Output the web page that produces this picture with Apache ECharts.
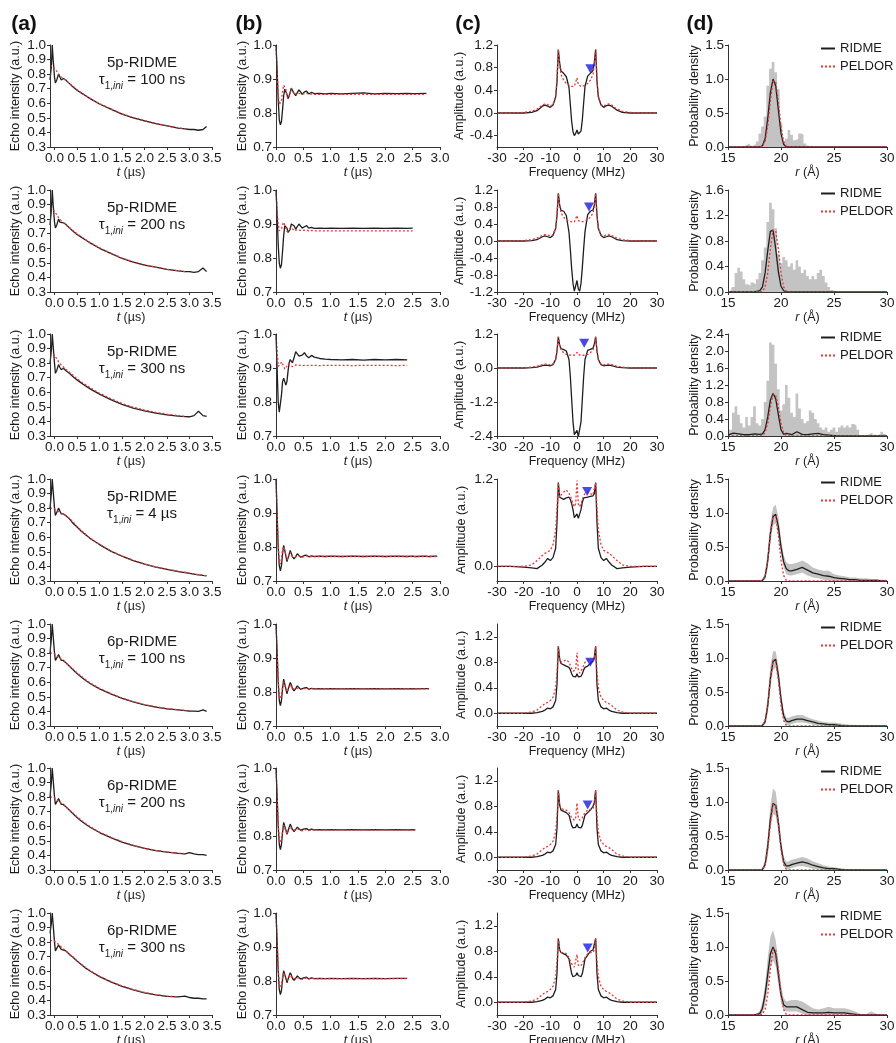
<!DOCTYPE html>
<html><head><meta charset="utf-8">
<script src="https://cdn.jsdelivr.net/npm/echarts@6/dist/echarts.min.js"></script>
<style>html,body{margin:0;padding:0;background:#fff}#c{width:896px;height:1043px}</style>
</head><body><div id="c"></div>
<script>
// ---------- DATA ----------
const annoName = ['5p-RIDME','5p-RIDME','5p-RIDME','5p-RIDME','6p-RIDME','6p-RIDME','6p-RIDME'];
const annoVal  = ['100 ns','200 ns','300 ns','4 \u00b5s','100 ns','200 ns','300 ns'];

// column (a): time traces
const tA = [-0.1,-0.07,-0.05,-0.03,0.0,0.02,0.05,0.09,0.12,0.15,0.2,0.25,0.3,0.35,0.4,0.5,0.6,0.7,0.8,1.0,1.25,1.5,1.75,2.0,2.25,2.5,2.75,2.9,3.0,3.1,3.2,3.3,3.38];
const aK1 = [0.76,0.85,1.0,0.9,0.78,0.74,0.76,0.80,0.78,0.76,0.77,0.76,0.745,0.73,0.715,0.69,0.67,0.65,0.63,0.595,0.56,0.525,0.50,0.48,0.46,0.445,0.43,0.425,0.42,0.42,0.415,0.42,0.44];
const aR1 = [0.86,0.86,0.855,0.85,0.84,0.83,0.82,0.80,0.79,0.78,0.77,0.757,0.745,0.732,0.72,0.695,0.672,0.652,0.633,0.598,0.562,0.528,0.502,0.481,0.462,0.446,0.432,0.426,null,null,null,null,null];
const aK2 = [0.76,0.86,1.0,0.9,0.78,0.74,0.76,0.80,0.78,0.77,0.775,0.765,0.75,0.735,0.72,0.695,0.675,0.655,0.635,0.6,0.565,0.53,0.505,0.485,0.47,0.455,0.445,0.44,0.44,0.435,0.44,0.465,0.44];
const aR2 = [0.88,0.875,0.87,0.865,0.855,0.845,0.83,0.81,0.8,0.79,0.775,0.762,0.75,0.737,0.724,0.7,0.678,0.658,0.638,0.603,0.567,0.533,0.507,0.487,0.47,0.456,0.445,0.44,null,null,null,null,null];
const aK3 = [0.8,0.88,1.0,0.92,0.8,0.73,0.75,0.79,0.77,0.755,0.765,0.75,0.738,0.725,0.71,0.685,0.663,0.642,0.622,0.587,0.55,0.517,0.492,0.472,0.457,0.445,0.437,0.433,0.432,0.44,0.47,0.44,0.435];
const aR3 = [0.88,0.875,0.87,0.865,0.855,0.845,0.83,0.81,0.798,0.787,0.772,0.758,0.745,0.732,0.72,0.693,0.67,0.65,0.63,0.593,0.557,0.523,0.498,0.478,0.462,0.45,0.44,0.435,null,null,null,null,null];
const aK4 = [0.8,0.9,1.0,0.92,0.8,0.75,0.76,0.8,0.78,0.76,0.76,0.75,0.735,0.72,0.7,0.67,0.64,0.615,0.59,0.55,0.505,0.47,0.44,0.415,0.395,0.38,0.365,0.358,0.352,0.347,0.342,0.338,0.335];
const aR4 = [0.8,0.8,0.8,0.8,0.795,0.79,0.785,0.775,0.77,0.765,0.758,0.75,0.738,0.725,0.71,0.675,0.645,0.618,0.593,0.552,0.507,0.472,0.442,0.417,0.397,0.381,0.367,0.36,0.354,0.348,0.343,0.339,0.336];
const aK5 = [0.8,0.9,1.0,0.92,0.8,0.75,0.76,0.79,0.77,0.75,0.75,0.735,0.72,0.705,0.69,0.66,0.635,0.61,0.59,0.555,0.52,0.49,0.465,0.445,0.43,0.418,0.41,0.405,0.403,0.402,0.4,0.41,0.4];
const aR5 = [0.8,0.8,0.8,0.8,0.795,0.79,0.785,0.775,0.765,0.755,0.745,0.733,0.72,0.707,0.693,0.665,0.64,0.616,0.594,0.558,0.523,0.492,0.467,0.447,0.432,0.42,0.411,0.407,null,null,null,null,null];
const aK6 = [0.8,0.9,1.0,0.92,0.8,0.75,0.76,0.79,0.77,0.75,0.75,0.735,0.72,0.705,0.69,0.66,0.635,0.612,0.592,0.557,0.522,0.492,0.468,0.448,0.433,0.422,0.414,0.41,0.42,0.41,0.405,0.405,0.4];
const aR6 = [0.8,0.8,0.8,0.8,0.795,0.79,0.785,0.775,0.765,0.755,0.745,0.733,0.72,0.707,0.693,0.665,0.64,0.617,0.596,0.56,0.525,0.495,0.47,0.45,0.435,0.424,0.416,0.412,null,null,null,null,null];
const aK7 = [0.86,0.93,1.0,0.92,0.8,0.74,0.75,0.78,0.77,0.75,0.745,0.74,0.725,0.71,0.7,0.67,0.645,0.62,0.6,0.563,0.527,0.497,0.472,0.452,0.438,0.428,0.425,0.43,0.42,0.415,0.415,0.41,0.41];
const aR7 = [0.81,0.81,0.81,0.81,0.805,0.8,0.795,0.785,0.775,0.765,0.752,0.74,0.727,0.714,0.701,0.672,0.647,0.623,0.602,0.566,0.53,0.5,0.475,0.455,0.44,0.43,0.424,null,null,null,null,null,null];

// column (b): background-corrected traces
const tB = [0,0.02,0.04,0.06,0.08,0.1,0.12,0.14,0.16,0.18,0.2,0.22,0.24,0.26,0.28,0.3,0.33,0.36,0.39,0.42,0.45,0.48,0.52,0.56,0.6,0.65,0.7,0.8,0.9,1.0,1.2,1.4,1.6,1.8,2.0,2.2,2.4,2.5,2.55,2.75,2.8,2.95];
const bK1 = [1.0,0.93,0.84,0.78,0.765,0.775,0.81,0.85,0.87,0.868,0.855,0.842,0.845,0.86,0.873,0.872,0.858,0.851,0.86,0.868,0.862,0.855,0.862,0.864,0.856,0.861,0.857,0.858,0.856,0.858,0.856,0.858,0.859,0.856,0.858,0.857,0.858,0.857,0.857,0.858,null,null];
const bR1 = [1.0,0.92,0.86,0.825,0.82,0.835,0.865,0.882,0.884,0.87,0.85,0.842,0.848,0.862,0.872,0.868,0.855,0.85,0.858,0.862,0.857,0.853,0.856,0.858,0.855,0.856,0.855,0.855,0.855,0.855,0.855,0.855,0.855,0.855,0.855,0.855,0.855,0.855,0.855,0.855,null,null];
const bK2 = [1.0,0.93,0.84,0.785,0.77,0.78,0.82,0.865,0.895,0.9,0.888,0.875,0.872,0.885,0.9,0.905,0.895,0.885,0.89,0.9,0.896,0.888,0.892,0.895,0.888,0.89,0.887,0.888,0.887,0.888,0.887,0.888,0.887,0.888,0.887,0.888,0.887,0.888,null,null,null,null];
const bR2 = [1.0,0.94,0.9,0.88,0.878,0.885,0.898,0.905,0.9,0.888,0.878,0.875,0.88,0.888,0.89,0.886,0.88,0.879,0.883,0.884,0.881,0.88,0.881,0.882,0.88,0.881,0.88,0.88,0.88,0.88,0.88,0.88,0.88,0.88,0.88,0.88,0.88,0.88,null,null,null,null];
const bK3 = [1.0,0.9,0.8,0.77,0.775,0.82,0.86,0.87,0.86,0.85,0.86,0.89,0.915,0.925,0.92,0.915,0.93,0.948,0.948,0.935,0.93,0.938,0.945,0.935,0.93,0.937,0.932,0.928,0.926,0.925,0.924,0.925,0.923,0.925,0.924,0.925,0.924,null,null,null,null,null];
const bR3 = [1.0,0.95,0.905,0.9,0.91,0.918,0.915,0.905,0.897,0.898,0.905,0.912,0.913,0.908,0.903,0.904,0.908,0.909,0.907,0.908,0.908,0.907,0.908,0.908,0.907,0.908,0.908,0.907,0.908,0.908,0.908,0.907,0.908,0.908,0.908,0.907,0.908,null,null,null,null,null];
const bK4 = [1.0,0.9,0.8,0.745,0.73,0.745,0.78,0.805,0.8,0.775,0.757,0.76,0.778,0.79,0.785,0.772,0.765,0.772,0.78,0.777,0.77,0.768,0.775,0.776,0.771,0.774,0.772,0.773,0.772,0.773,0.772,0.773,0.772,0.773,0.772,0.773,0.772,0.773,0.772,0.773,0.772,0.773];
const bR4 = [1.0,0.9,0.81,0.76,0.75,0.765,0.79,0.8,0.792,0.775,0.762,0.765,0.778,0.785,0.78,0.772,0.767,0.771,0.776,0.774,0.77,0.769,0.773,0.774,0.771,0.772,0.772,0.772,0.772,0.772,0.772,0.772,0.772,0.772,0.772,0.772,0.772,0.772,0.772,0.772,0.772,0.772];
const bK5 = [1.0,0.92,0.83,0.775,0.76,0.775,0.81,0.838,0.835,0.81,0.795,0.8,0.818,0.828,0.822,0.81,0.803,0.81,0.818,0.815,0.808,0.806,0.812,0.813,0.808,0.811,0.809,0.81,0.809,0.81,0.809,0.81,0.809,0.81,0.809,0.81,0.809,0.81,0.809,0.81,0.81,null];
const bR5 = [1.0,0.92,0.84,0.79,0.78,0.79,0.815,0.83,0.826,0.81,0.8,0.803,0.815,0.822,0.818,0.81,0.805,0.809,0.814,0.812,0.808,0.807,0.81,0.811,0.808,0.809,0.809,0.809,0.809,0.809,0.809,0.809,0.809,0.809,0.809,0.809,0.809,0.809,0.809,0.809,0.809,null];
const bK6 = [1.0,0.92,0.83,0.775,0.76,0.775,0.81,0.84,0.838,0.818,0.805,0.808,0.825,0.835,0.83,0.82,0.813,0.818,0.826,0.823,0.817,0.815,0.821,0.822,0.817,0.82,0.818,0.819,0.818,0.819,0.818,0.819,0.818,0.819,0.818,0.819,0.818,0.819,0.818,null,null,null];
const bR6 = [1.0,0.92,0.84,0.79,0.78,0.79,0.815,0.832,0.83,0.815,0.806,0.808,0.82,0.828,0.825,0.818,0.813,0.817,0.822,0.82,0.816,0.815,0.818,0.819,0.816,0.818,0.817,0.817,0.817,0.817,0.817,0.817,0.817,0.817,0.817,0.817,0.817,0.817,0.817,null,null,null];
const bK7 = [1.0,0.92,0.83,0.775,0.76,0.772,0.805,0.83,0.828,0.808,0.795,0.798,0.815,0.824,0.818,0.808,0.802,0.808,0.815,0.812,0.806,0.805,0.81,0.811,0.806,0.809,0.807,0.808,0.807,0.808,0.807,0.808,0.807,0.808,0.807,0.808,0.808,null,null,null,null,null];
const bR7 = [1.0,0.92,0.84,0.79,0.78,0.788,0.81,0.825,0.822,0.808,0.8,0.802,0.812,0.818,0.815,0.808,0.804,0.807,0.812,0.81,0.806,0.805,0.808,0.809,0.806,0.808,0.807,0.807,0.807,0.807,0.807,0.807,0.807,0.807,0.807,0.807,0.807,null,null,null,null,null];

// column (c): spectra
const fC = [-30,-25,-20,-17,-15,-13,-12,-11,-10,-9,-8,-7.5,-7,-6.5,-6,-5,-4,-3,-2.5,-2,-1.5,-1,-0.5,0,0.5,1,1.5,2,2.5,3,4,5,6,6.5,7,7.5,8,9,10,11,12,13,15,17,20,25,30];
const cK1 = [0,0,0,0.01,0.04,0.12,0.14,0.12,0.1,0.14,0.28,0.55,1.12,0.88,0.74,0.7,0.64,0.45,0.15,-0.15,-0.33,-0.4,-0.36,-0.3,-0.37,-0.4,-0.32,-0.12,0.18,0.47,0.65,0.7,0.75,0.9,1.12,0.55,0.28,0.14,0.1,0.13,0.14,0.12,0.05,0.01,0,0,0];
const cR1 = [0,0,0.01,0.03,0.07,0.14,0.16,0.15,0.12,0.15,0.3,0.6,1.12,0.85,0.68,0.58,0.52,0.49,0.48,0.47,0.47,0.47,0.5,0.62,0.5,0.47,0.47,0.47,0.48,0.49,0.52,0.58,0.68,0.85,1.12,0.6,0.3,0.15,0.12,0.15,0.16,0.14,0.07,0.03,0.01,0,0];
const cK2 = [0,0,0,0.01,0.03,0.1,0.12,0.1,0.08,0.13,0.3,0.6,1.12,0.85,0.72,0.7,0.6,0.2,-0.2,-0.65,-1.0,-1.18,-1.15,-0.93,-1.13,-1.18,-1.0,-0.62,-0.18,0.22,0.62,0.7,0.73,0.85,1.12,0.6,0.3,0.13,0.08,0.1,0.12,0.1,0.03,0.01,0,0,0];
const cR2 = [0,0,0.01,0.03,0.07,0.13,0.15,0.14,0.12,0.15,0.3,0.6,1.12,0.82,0.66,0.56,0.5,0.47,0.46,0.45,0.45,0.45,0.48,0.6,0.48,0.45,0.45,0.45,0.46,0.47,0.5,0.56,0.66,0.82,1.12,0.6,0.3,0.15,0.12,0.14,0.15,0.13,0.07,0.03,0.01,0,0];
const cK3 = [0,0,0,0.01,0.03,0.08,0.1,0.09,0.08,0.12,0.3,0.6,1.1,0.8,0.68,0.65,0.6,0.3,-0.3,-1.1,-1.9,-2.35,-2.42,-2.2,-2.42,-2.35,-1.9,-1.1,-0.3,0.3,0.62,0.66,0.7,0.85,1.1,0.6,0.3,0.12,0.08,0.09,0.1,0.08,0.03,0.01,0,0,0];
const cR3 = [0,0,0.01,0.03,0.06,0.12,0.14,0.13,0.11,0.14,0.3,0.6,1.1,0.8,0.64,0.54,0.48,0.46,0.45,0.45,0.45,0.45,0.47,0.55,0.47,0.45,0.45,0.45,0.45,0.46,0.48,0.54,0.64,0.8,1.1,0.6,0.3,0.14,0.11,0.13,0.14,0.12,0.06,0.03,0.01,0,0];
const cK4 = [0,0,-0.01,-0.02,-0.03,0.02,0.06,0.11,0.08,0.12,0.25,0.6,1.15,0.95,0.93,0.92,0.94,0.95,0.92,0.86,0.78,0.67,0.66,0.72,0.66,0.67,0.78,0.88,0.94,0.95,0.95,0.96,0.97,1.0,1.15,0.6,0.25,0.12,0.08,0.11,0.06,0.02,-0.03,-0.02,-0.01,0,0];
const cR4 = [0,0,0,0.02,0.08,0.15,0.18,0.2,0.22,0.3,0.5,0.8,1.15,0.95,0.98,1.02,1.05,1.0,0.97,0.92,0.86,0.82,0.86,1.18,0.86,0.82,0.86,0.92,0.97,1.0,1.02,1.0,0.98,0.96,1.15,0.8,0.5,0.3,0.22,0.2,0.18,0.15,0.08,0.02,0,0,0];
const cK5 = [0,0,0,0,0.01,0.03,0.05,0.08,0.07,0.1,0.2,0.45,1.05,0.85,0.78,0.76,0.74,0.72,0.68,0.62,0.58,0.56,0.57,0.62,0.57,0.56,0.58,0.62,0.68,0.72,0.74,0.78,0.82,0.88,1.05,0.45,0.2,0.1,0.07,0.08,0.05,0.03,0.01,0,0,0,0];
const cR5 = [0,0,0,0.02,0.05,0.12,0.15,0.17,0.2,0.25,0.4,0.65,1.05,0.85,0.8,0.82,0.84,0.8,0.75,0.7,0.66,0.63,0.68,0.95,0.68,0.63,0.66,0.7,0.75,0.8,0.84,0.82,0.8,0.85,1.05,0.65,0.4,0.25,0.2,0.17,0.15,0.12,0.05,0.02,0,0,0];
const cK6 = [0,0,0,0,0.01,0.03,0.05,0.08,0.07,0.1,0.2,0.45,1.05,0.82,0.74,0.72,0.7,0.66,0.58,0.5,0.46,0.45,0.47,0.52,0.47,0.45,0.46,0.5,0.58,0.66,0.7,0.74,0.8,0.86,1.05,0.45,0.2,0.1,0.07,0.08,0.05,0.03,0.01,0,0,0,0];
const cR6 = [0,0,0,0.02,0.05,0.12,0.15,0.17,0.2,0.25,0.4,0.65,1.05,0.82,0.76,0.75,0.74,0.7,0.66,0.62,0.6,0.58,0.62,0.85,0.62,0.58,0.6,0.62,0.66,0.7,0.74,0.75,0.76,0.82,1.05,0.65,0.4,0.25,0.2,0.17,0.15,0.12,0.05,0.02,0,0,0];
const cK7 = [0,0,0,0,0.01,0.03,0.05,0.08,0.07,0.1,0.2,0.45,1.0,0.82,0.78,0.76,0.74,0.68,0.56,0.45,0.4,0.4,0.42,0.46,0.42,0.4,0.4,0.45,0.56,0.68,0.74,0.8,0.82,0.85,1.0,0.45,0.2,0.1,0.07,0.08,0.05,0.03,0.01,0,0,0,0];
const cR7 = [0,0,0,0.02,0.05,0.12,0.15,0.17,0.2,0.25,0.4,0.65,1.0,0.82,0.78,0.78,0.76,0.7,0.65,0.6,0.57,0.55,0.58,0.75,0.58,0.55,0.57,0.6,0.65,0.7,0.76,0.78,0.78,0.82,1.0,0.65,0.4,0.25,0.2,0.17,0.15,0.12,0.05,0.02,0,0,0];
const triX = [5, 4.5, 2.7, 3.8, 5, 4, 4];
const triY = [0.78, 0.8, 0.87, 1.03, 0.8, 0.82, 0.85];

// column (d): distance distributions
const rD = [15,15.5,16,16.5,17,17.5,18,18.25,18.5,18.75,19,19.25,19.5,19.75,20,20.25,20.5,20.75,21,21.5,22,22.5,23,23.5,24,24.5,25,25.5,26,26.5,27,27.5,28,28.5,29,29.5,30];
const dPel = [0,0,0,0,0,0,0,0.01,0.08,0.3,0.68,0.97,0.96,0.68,0.3,0.08,0.01,0,0,0,0,0,0,0,0,0,0,0,0,0,0,0,0,0,0,0,0];
const dK1 = [0,0,0,0,0,0,0,0.02,0.12,0.42,0.8,1.0,0.9,0.55,0.2,0.04,0,0,0,0,0,0,0,0,0,0,0,0,0,0,0,0,0,0,0,0,0];
const dK2 = [0,0,0,0,0,0,0.02,0.08,0.3,0.65,0.95,0.97,0.68,0.32,0.09,0.02,0,0,0,0,0,0,0,0,0,0,0,0,0,0,0,0,0,0,0,0,0];
const dK3 = [0.02,0.07,0.05,0.03,0.03,0.05,0.04,0.05,0.15,0.45,0.85,1.0,0.88,0.5,0.15,0.04,0.06,0.05,0.03,0.1,0.04,0.03,0.05,0.06,0.03,0.02,0.01,0,0,0,0,0,0,0,0,0,0];
const dK4 = [0,0,0,0,0,0,0,0.01,0.06,0.3,0.7,0.95,0.98,0.8,0.5,0.28,0.18,0.15,0.15,0.17,0.2,0.16,0.12,0.1,0.08,0.07,0.05,0.04,0.03,0.02,0.02,0.01,0.01,0.01,0.01,0,0];
const dU4 = [0,0,0,0,0,0,0,0.03,0.12,0.45,0.85,1.08,1.12,0.95,0.62,0.38,0.28,0.25,0.25,0.27,0.3,0.26,0.2,0.17,0.15,0.15,0.1,0.08,0.07,0.05,0.05,0.04,0.04,0.03,0.03,0.02,0.02];
const dL4 = [0,0,0,0,0,0,0,0,0.02,0.18,0.55,0.82,0.85,0.65,0.4,0.2,0.1,0.08,0.08,0.1,0.12,0.08,0.05,0.04,0.02,0.01,0,0,0,0,0,0,0,0,0,0,0];
const dK5 = [0,0,0,0,0,0,0,0.01,0.06,0.3,0.7,0.95,0.98,0.75,0.4,0.15,0.07,0.06,0.08,0.1,0.1,0.08,0.06,0.04,0.03,0.02,0.02,0.01,0,0,0,0,0,0,0,0,0];
const dU5 = [0,0,0,0,0,0,0,0.03,0.12,0.45,0.88,1.1,1.1,0.88,0.5,0.22,0.12,0.12,0.14,0.16,0.16,0.13,0.1,0.08,0.06,0.05,0.05,0.04,0.03,0.02,0.02,0.01,0.01,0.01,0.01,0,0];
const dL5 = [0,0,0,0,0,0,0,0,0.02,0.18,0.55,0.82,0.86,0.62,0.3,0.08,0.02,0.01,0.03,0.05,0.05,0.04,0.02,0.01,0,0,0,0,0,0,0,0,0,0,0,0,0];
const dK6 = [0,0,0,0,0,0,0,0.01,0.08,0.35,0.75,0.98,0.95,0.7,0.35,0.12,0.06,0.06,0.08,0.1,0.12,0.1,0.07,0.05,0.03,0.02,0.02,0.01,0,0,0,0,0,0,0,0,0];
const dU6 = [0,0,0,0,0,0,0,0.03,0.15,0.5,0.95,1.2,1.15,0.85,0.45,0.2,0.12,0.13,0.15,0.17,0.19,0.17,0.13,0.1,0.07,0.05,0.04,0.03,0.02,0.01,0.01,0.01,0,0,0,0,0];
const dL6 = [0,0,0,0,0,0,0,0,0.03,0.2,0.6,0.82,0.8,0.55,0.25,0.05,0.01,0.01,0.03,0.05,0.06,0.04,0.02,0.01,0,0,0,0,0,0,0,0,0,0,0,0,0];
const dK7 = [0,0,0,0,0,0,0.02,0.1,0.3,0.6,0.9,1.0,0.9,0.6,0.3,0.15,0.12,0.12,0.12,0.12,0.08,0.04,0.03,0.03,0.03,0.04,0.03,0.03,0.03,0.02,0.01,0,0,0,0,0,0];
const dU7 = [0,0,0,0,0,0,0.06,0.2,0.45,0.85,1.15,1.25,1.1,0.8,0.45,0.25,0.2,0.21,0.22,0.22,0.2,0.15,0.1,0.08,0.1,0.12,0.1,0.1,0.1,0.08,0.05,0.02,0.01,0.05,0.02,0,0];
const dL7 = [0,0,0,0,0,0,0,0.02,0.15,0.4,0.7,0.8,0.72,0.45,0.18,0.07,0.05,0.05,0.05,0.05,0.02,0,0,0,0,0,0,0,0,0,0,0,0,0,0,0,0];
const rG = [15,15.25,15.5,15.75,16,16.25,16.5,16.75,17,17.25,17.5,17.75,18,18.25,18.5,18.75,19,19.25,19.5,19.75,20,20.25,20.5,20.75,21,21.25,21.5,21.75,22,22.25,22.5,22.75,23,23.25,23.5,23.75,24,24.25,24.5,24.75,25,25.25,25.5,25.75,26,26.25,26.5,26.75,27,27.25,27.5,27.75,28,28.25,28.5,28.75,29,29.25,29.5,29.75,30];
const gH1 = [0,0,0,0,0,0,0.01,0.03,0.05,0.02,0.04,0.08,0.2,0.3,0.45,0.9,1.15,1.25,1.1,0.85,0.35,0.08,0.12,0.25,0.18,0.1,0.12,0.2,0.18,0.05,0.02,0.01,0.01,0,0,0,0,0,0,0,0,0,0,0,0,0,0,0,0,0,0,0,0,0,0,0,0,0,0,0,0];
const gH2 = [0,0.02,0.08,0.3,0.38,0.32,0.2,0.12,0.1,0.15,0.12,0.2,0.3,0.5,0.7,1.1,1.4,1.3,1.0,0.6,0.45,0.55,0.5,0.4,0.45,0.35,0.5,0.4,0.3,0.35,0.25,0.2,0.25,0.2,0.3,0.35,0.25,0.15,0.08,0.03,0.01,0,0,0,0,0,0,0,0,0,0,0,0,0,0,0,0,0,0,0,0];
const gH3 = [0.3,0.15,0.55,0.7,0.5,0.3,0.2,0.45,0.25,0.45,0.7,0.3,0.25,0.4,0.8,1.3,2.2,2.15,1.7,1.1,0.6,0.75,1.2,0.9,0.55,0.45,1.0,0.65,0.4,0.3,0.35,0.6,0.55,0.4,0.3,0.2,0.15,0.2,0.1,0.15,0.2,0.1,0.2,0.25,0.2,0.25,0.2,0.28,0.25,0.15,0.02,0.01,0.02,0.05,0.08,0.03,0.02,0.05,0.1,0.05,0.02];

// axis ticks
const tickA_x = [0,0.5,1,1.5,2,2.5,3,3.5];
const tickA_y = [0.3,0.4,0.5,0.6,0.7,0.8,0.9,1.0];
const tickB_x = [0,0.5,1,1.5,2,2.5,3];
const tickB_y = [0.7,0.8,0.9,1.0];
const tickC_x = [-30,-20,-10,0,10,20,30];
const tickC_y = [[-0.4,0,0.4,0.8,1.2],[-1.2,-0.8,-0.4,0,0.4,0.8,1.2],[-2.4,-1.2,0,1.2],[0,1.2],[0,0.4,0.8,1.2],[0,0.4,0.8,1.2],[0,0.4,0.8,1.2]];
const rangeC_y = [[-0.6,1.2],[-1.2,1.2],[-2.4,1.2],[-0.2,1.2],[-0.2,1.4],[-0.2,1.4],[-0.2,1.4]];
const tickD_x = [15,20,25,30];
const tickD_y = [[0,0.5,1.0,1.5],[0,0.4,0.8,1.2,1.6],[0,0.4,0.8,1.2,1.6,2.0,2.4],[0,0.5,1.0,1.5],[0,0.5,1.0,1.5],[0,0.5,1.0,1.5],[0,0.5,1.0,1.5]];

const aK=[aK1,aK2,aK3,aK4,aK5,aK6,aK7], aR=[aR1,aR2,aR3,aR4,aR5,aR6,aR7];
const bK=[bK1,bK2,bK3,bK4,bK5,bK6,bK7], bR=[bR1,bR2,bR3,bR4,bR5,bR6,bR7];
const cK=[cK1,cK2,cK3,cK4,cK5,cK6,cK7], cR=[cR1,cR2,cR3,cR4,cR5,cR6,cR7];
const dK=[dK1,dK2,dK3,dK4,dK5,dK6,dK7];
const gH=[gH1,gH2,gH3];
const dU=[null,null,null,dU4,dU5,dU6,dU7], dL=[null,null,null,dL4,dL5,dL6,dL7];

// ---------- LAYOUT / STYLE ----------
const FONT = '"Liberation Sans", Arial, sans-serif';
const TXT = '#1a1a1a';
const BLACK = '#1e1e1e', RED = '#e23a3a', GRAY = '#c3c3c3', BLUE = '#1c1ce0';
const colLeft = [50,276,497,728], colRight = [212,440,657,887];
const rowTop = [45,190,334,479,624,768,913]; const H = 102;

const grids=[], xAxes=[], yAxes=[], series=[], graphics=[], legends=[];
const f1 = v => v.toFixed(1), f0 = v => String(v);
const NAMESTYLE = {fontSize:12.5,color:TXT,fontFamily:FONT,rich:{it:{fontStyle:'italic',fontSize:12.5,fontFamily:FONT,color:TXT}}};

function axis(min,max,ticks,fmt,extra){
  return Object.assign({type:'value',min,max,z:5,splitLine:{show:false},
    axisLine:{show:true,onZero:false,lineStyle:{color:'#333',width:1}},
    axisTick:{show:true,length:3,customValues:ticks,lineStyle:{color:'#333'}},
    axisLabel:{customValues:ticks,formatter:fmt,fontSize:13.5,color:TXT,fontFamily:FONT,margin:4,interval:0},
    nameTextStyle:NAMESTYLE
  },extra||{});
}
function pts(xs,ys){ return xs.map((x,k)=>[x,ys[k]]).filter(p=>p[1]!==null); }
function line(name,gi,xs,ys,color,dotted,z){
  return {type:'line',name,xAxisIndex:gi,yAxisIndex:gi,data:pts(xs,ys),showSymbol:false,symbol:'none',
    lineStyle:{color,width:1.3,type:dotted?[2,2]:'solid'},itemStyle:{color},z:z||3,silent:true,animation:false};
}
function area(gi,xs,ys,color,z,step){
  return {type:'line',xAxisIndex:gi,yAxisIndex:gi,data:pts(xs,ys),step:step||false,symbol:'none',showSymbol:false,
    lineStyle:{width:0},areaStyle:{color,opacity:1},z,silent:true,animation:false};
}

for(let i=0;i<7;i++){
  for(let j=0;j<4;j++){
    grids.push({left:colLeft[j],top:rowTop[i],width:colRight[j]-colLeft[j],height:H,outerBoundsMode:'none'});
  }
  const g0=i*4, g1=i*4+1, g2=i*4+2, g3=i*4+3;
  // (a)
  xAxes.push(axis(-0.1,3.5,tickA_x,f1,{gridIndex:g0,name:'{it|t} (\u00b5s)',nameLocation:'middle',nameGap:17}));
  yAxes.push(axis(0.3,1.0,tickA_y,f1,{gridIndex:g0,name:'Echo intensity (a.u.)',nameLocation:'middle',nameGap:28}));
  // (b)
  xAxes.push(axis(0,3.0,tickB_x,f1,{gridIndex:g1,name:'{it|t} (\u00b5s)',nameLocation:'middle',nameGap:17}));
  yAxes.push(axis(0.7,1.0,tickB_y,f1,{gridIndex:g1,name:'Echo intensity (a.u.)',nameLocation:'middle',nameGap:27}));
  // (c)
  xAxes.push(axis(-30,30,tickC_x,f0,{gridIndex:g2,name:'Frequency (MHz)',nameLocation:'middle',nameGap:17}));
  yAxes.push(axis(rangeC_y[i][0],rangeC_y[i][1],tickC_y[i],f1,{gridIndex:g2,name:'Amplitude (a.u.)',nameLocation:'middle',nameGap:29}));
  // (d)
  xAxes.push(axis(15,30,tickD_x,f0,{gridIndex:g3,name:'{it|r} (\u00c5)',nameLocation:'middle',nameGap:17}));
  const ty=tickD_y[i];
  yAxes.push(axis(0,ty[ty.length-1],ty,f1,{gridIndex:g3,name:'Probability density',nameLocation:'middle',nameGap:27}));

  series.push(line('a'+i+'k',g0,tA,aK[i],BLACK,false,3));
  series.push(line('a'+i+'r',g0,tA,aR[i],RED,true,4));
  series.push(line('b'+i+'k',g1,tB,bK[i],BLACK,false,3));
  series.push(line('b'+i+'r',g1,tB,bR[i],RED,true,4));
  series.push(line('c'+i+'k',g2,fC,cK[i],BLACK,false,3));
  series.push(line('c'+i+'r',g2,fC,cR[i],RED,true,4));
  series.push({type:'scatter',xAxisIndex:g2,yAxisIndex:g2,data:[[triX[i],triY[i]]],symbol:'triangle',symbolRotate:180,
    symbolSize:[10,9],itemStyle:{color:BLUE},z:6,silent:true,animation:false});

  if(i<3){
    series.push(area(g3,rG,gH[i],GRAY,1,'middle'));
  } else {
    series.push(area(g3,rD,dU[i],GRAY,1));
    series.push(area(g3,rD,dL[i],'#ffffff',2));
  }
  series.push(line('RIDME',g3,rD,dK[i],BLACK,false,3));
  series.push(line('PELDOR',g3,rD,dPel,RED,true,4));

  legends.push({data:['RIDME','PELDOR'],orient:'vertical',left:820,top:rowTop[i]-3,itemWidth:14,itemHeight:8,itemGap:5,
    padding:0,selectedMode:false,itemStyle:{opacity:0},textStyle:{fontSize:13,color:TXT,fontFamily:FONT}});

  // annotations in column (a)
  graphics.push({type:'text',x:142,y:rowTop[i]+18,style:{text:annoName[i],fontSize:15,fontFamily:FONT,fill:TXT,align:'center',verticalAlign:'middle'}});
  graphics.push({type:'text',x:142,y:rowTop[i]+37,style:{
    text:'{t|\u03c4}{s|1,}{si|ini}{n| = '+annoVal[i]+'}',align:'center',verticalAlign:'middle',
    rich:{t:{fontSize:15,fontFamily:FONT,fill:TXT,verticalAlign:'bottom',padding:[0,0,4,0]},
          s:{fontSize:10,fontFamily:FONT,fill:TXT,verticalAlign:'bottom'},
          si:{fontSize:10,fontFamily:FONT,fill:TXT,fontStyle:'italic',verticalAlign:'bottom'},
          n:{fontSize:15,fontFamily:FONT,fill:TXT,verticalAlign:'bottom',padding:[0,0,4,0]}}}});
}
const panelX=[24,249,468,700];
['(a)','(b)','(c)','(d)'].forEach((t,j)=>graphics.push({type:'text',x:panelX[j],y:24,
  style:{text:t,fontSize:21,fontWeight:'bold',fontFamily:FONT,fill:'#111',align:'center',verticalAlign:'middle'}}));

const chart = echarts.init(document.getElementById('c'), null, {renderer:'canvas'});
chart.setOption({animation:false,backgroundColor:'#fff',grid:grids,xAxis:xAxes,yAxis:yAxes,series,legend:legends,graphic:graphics});
</script></body></html>
